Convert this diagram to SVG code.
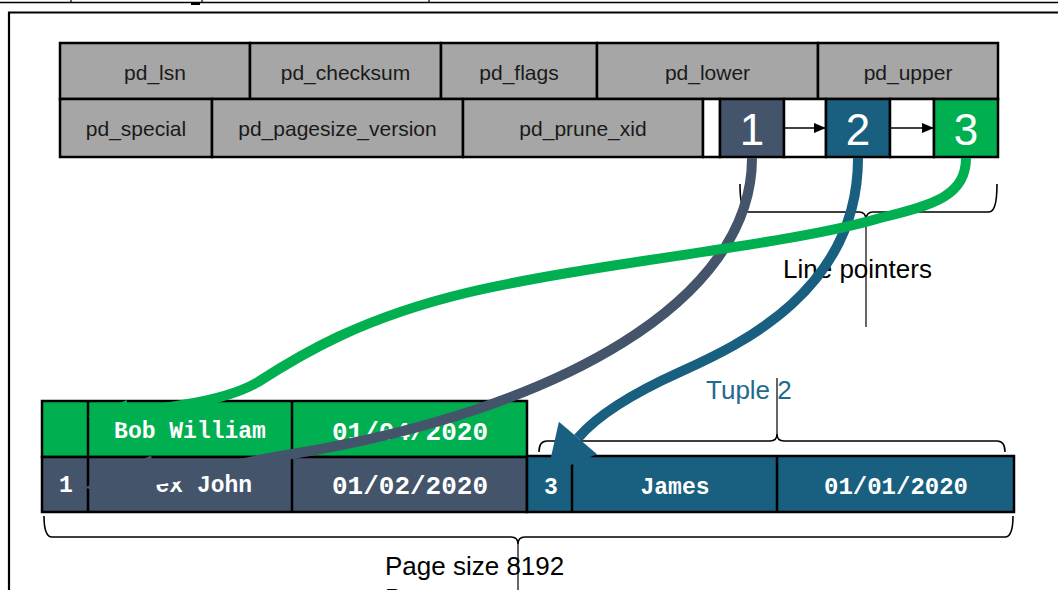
<svg xmlns="http://www.w3.org/2000/svg" width="1058" height="590" viewBox="0 0 1058 590">
  <style>
    .cell { stroke: #000; stroke-width: 2.5; }
    .hdr { fill: #A6A6A6; }
    .white { fill: #FFFFFF; }
    .slate { fill: #44546A; }
    .blue { fill: #185F80; }
    .green { fill: #00B050; }
    .hlabel { font-family: "Liberation Sans", Arial, sans-serif; font-size: 21px; fill: #1a1a1a; text-anchor: middle; }
    .num { font-family: "Liberation Sans", Arial, sans-serif; font-size: 44px; fill: #FFFFFF; text-anchor: middle; }
    .tup { font-family: "Liberation Mono", "Courier New", monospace; font-weight: bold; fill: #FFFFFF; text-anchor: middle; }
    .cap { font-family: "Liberation Sans", Arial, sans-serif; font-size: 26px; fill: #000; }
    .brace { fill: none; stroke: #000; stroke-width: 1.6; }
    .thin { fill: none; stroke: #000; stroke-width: 1.2; }
    .ptr { fill: none; stroke-width: 10; }
  </style>
  <defs>
    <marker id="small-arrow" markerWidth="12" markerHeight="10" refX="12" refY="5" orient="auto" markerUnits="userSpaceOnUse">
      <path d="M0,0 L12,5 L0,10 z" fill="#000"/>
    </marker>
    <marker id="head-slate" markerWidth="70" markerHeight="50" refX="0" refY="25" orient="auto" markerUnits="userSpaceOnUse" overflow="visible">
      <path d="M0,0 L70,25 L0,50 z" fill="#44546A"/>
    </marker>
    <marker id="head-blue" markerWidth="48" markerHeight="50" refX="0" refY="25" orient="auto" markerUnits="userSpaceOnUse" overflow="visible">
      <path d="M0,0 L48,25 L0,50 z" fill="#185F80"/>
    </marker>
    <marker id="head-green" markerWidth="40" markerHeight="24" refX="0" refY="12" orient="auto" markerUnits="userSpaceOnUse" overflow="visible">
      <path d="M0,0 L40,12 L0,24 z" fill="#00B050"/>
    </marker>
  </defs>

  <rect width="1058" height="590" fill="#FFFFFF"/>

  <!-- frame edges -->
  <g id="frame">
    <path d="M0,2.5 H1058" stroke="#000" stroke-width="1.6" fill="none"/>
    <path d="M71,0 V2.5 M202,0 V2.5 M429,0 V2.5" stroke="#000" stroke-width="1.2" fill="none"/>
    <rect x="191" y="2" width="9" height="3" fill="#000"/>
    <path d="M9,600 V12.5 H1070" stroke="#000" stroke-width="2.2" fill="none"/>
  </g>

  <!-- page header fields -->
  <g id="page-header">
    <rect class="cell hdr" x="60" y="43" width="190" height="56"/>
    <rect class="cell hdr" x="250" y="43" width="191" height="56"/>
    <rect class="cell hdr" x="441" y="43" width="156" height="56"/>
    <rect class="cell hdr" x="597" y="43" width="221" height="56"/>
    <rect class="cell hdr" x="818" y="43" width="180" height="56"/>
    <text class="hlabel" x="155" y="80">pd_lsn</text>
    <text class="hlabel" x="345.5" y="80">pd_checksum</text>
    <text class="hlabel" x="519" y="80">pd_flags</text>
    <text class="hlabel" x="707.5" y="80">pd_lower</text>
    <text class="hlabel" x="908" y="80">pd_upper</text>

    <rect class="cell hdr" x="60" y="99" width="152" height="58"/>
    <rect class="cell hdr" x="212" y="99" width="251" height="58"/>
    <rect class="cell hdr" x="463" y="99" width="240" height="58"/>
    <rect class="cell white" x="703" y="99" width="17" height="58"/>
    <text class="hlabel" x="136" y="136">pd_special</text>
    <text class="hlabel" x="337.5" y="136">pd_pagesize_version</text>
    <text class="hlabel" x="583" y="136">pd_prune_xid</text>
  </g>

  <!-- line pointer slots -->
  <g id="lp-1">
    <rect class="cell slate" x="720" y="99" width="64" height="58"/>
    <text class="num" x="752" y="145">1</text>
  </g>
  <g id="lp-gap-1">
    <rect class="cell white" x="784" y="99" width="42" height="58"/>
  </g>
  <g id="lp-2">
    <rect class="cell blue" x="826" y="99" width="64" height="58"/>
    <text class="num" x="858" y="145">2</text>
  </g>
  <g id="lp-gap-2">
    <rect class="cell white" x="890" y="99" width="44" height="58"/>
  </g>
  <g id="lp-3">
    <rect class="cell green" x="934" y="99" width="64" height="58"/>
    <text class="num" x="966" y="145">3</text>
  </g>

  <!-- tuples -->
  <g id="tuple-3">
    <rect class="cell green" x="42" y="401" width="485" height="56"/>
    <path class="cell" d="M88,401 V457 M292,401 V457"/>
    <text class="tup" x="190" y="438" font-size="23">Bob William</text>
    <text class="tup" x="410" y="440" font-size="26">01/04/2020</text>
  </g>
  <g id="tuple-1">
    <rect class="cell slate" x="42" y="457" width="485" height="55"/>
    <path class="cell" d="M88,457 V512 M292,457 V512"/>
    <text class="tup" x="66" y="492" font-size="23">1</text>
    <text class="tup" x="190" y="492" font-size="23">Alex John</text>
    <text class="tup" x="410" y="494" font-size="26">01/02/2020</text>
  </g>
  <g id="tuple-2">
    <rect class="cell blue" x="527" y="456" width="487" height="56"/>
    <path class="cell" d="M572,456 V512 M777,456 V512"/>
    <text class="tup" x="551" y="494" font-size="23">3</text>
    <text class="tup" x="675" y="494" font-size="23">James</text>
    <text class="tup" x="896" y="494" font-size="24">01/01/2020</text>
  </g>

  <!-- braces and captions -->
  <g id="lp-brace">
    <path class="brace" d="M740,184 Q740,212 748,212 H859 Q866,212 866,220 Q866,212 873,212 H989 Q997,212 997,184"/>
    <path class="thin" d="M866,220 V327"/>
    <text class="cap" x="783" y="278">Line pointers</text>
  </g>
  <g id="tuple2-brace">
    <path class="brace" d="M539,452 Q539,441 547,441 H770 Q777,441 777,434 Q777,441 784,441 H997 Q1005,441 1005,452"/>
    <path class="thin" d="M777,434 V378"/>
    <text class="cap" x="706" y="399" style="fill:#1F6A8E">Tuple 2</text>
  </g>
  <g id="page-brace">
    <path class="brace" d="M44,516 Q44,537 52,537 H511 Q518,537 518,544 Q518,537 525,537 H1005 Q1013,537 1013,516"/>
    <path class="thin" d="M518,544 V590"/>
    <text class="cap" x="385" y="575">Page size 8192</text>
    <text class="cap" x="385" y="607">Bytes</text>
  </g>

  <!-- connectors -->
  <g id="connectors">
    <path d="M785,128 H826" stroke="#000" stroke-width="1.5" fill="none" marker-end="url(#small-arrow)"/>
    <path d="M890,128 H934" stroke="#000" stroke-width="1.5" fill="none" marker-end="url(#small-arrow)"/>
    <path class="ptr" stroke="#44546A" d="M752,158 C752,300 560,410 292,454 C230,464 190,476 154,480" marker-end="url(#head-slate)"/>
    <path class="ptr" stroke="#185F80" d="M858,158 C858,290 740,345 680,372 C640,390 600,412 578,438" marker-end="url(#head-blue)"/>
    <path class="ptr" stroke="#00B050" d="M966,158 C966,195 935,205 880,218 C790,245 600,262 470,292 C360,318 300,355 258,382 C228,400 175,407 128,412" marker-end="url(#head-green)"/>
  </g>
</svg>
